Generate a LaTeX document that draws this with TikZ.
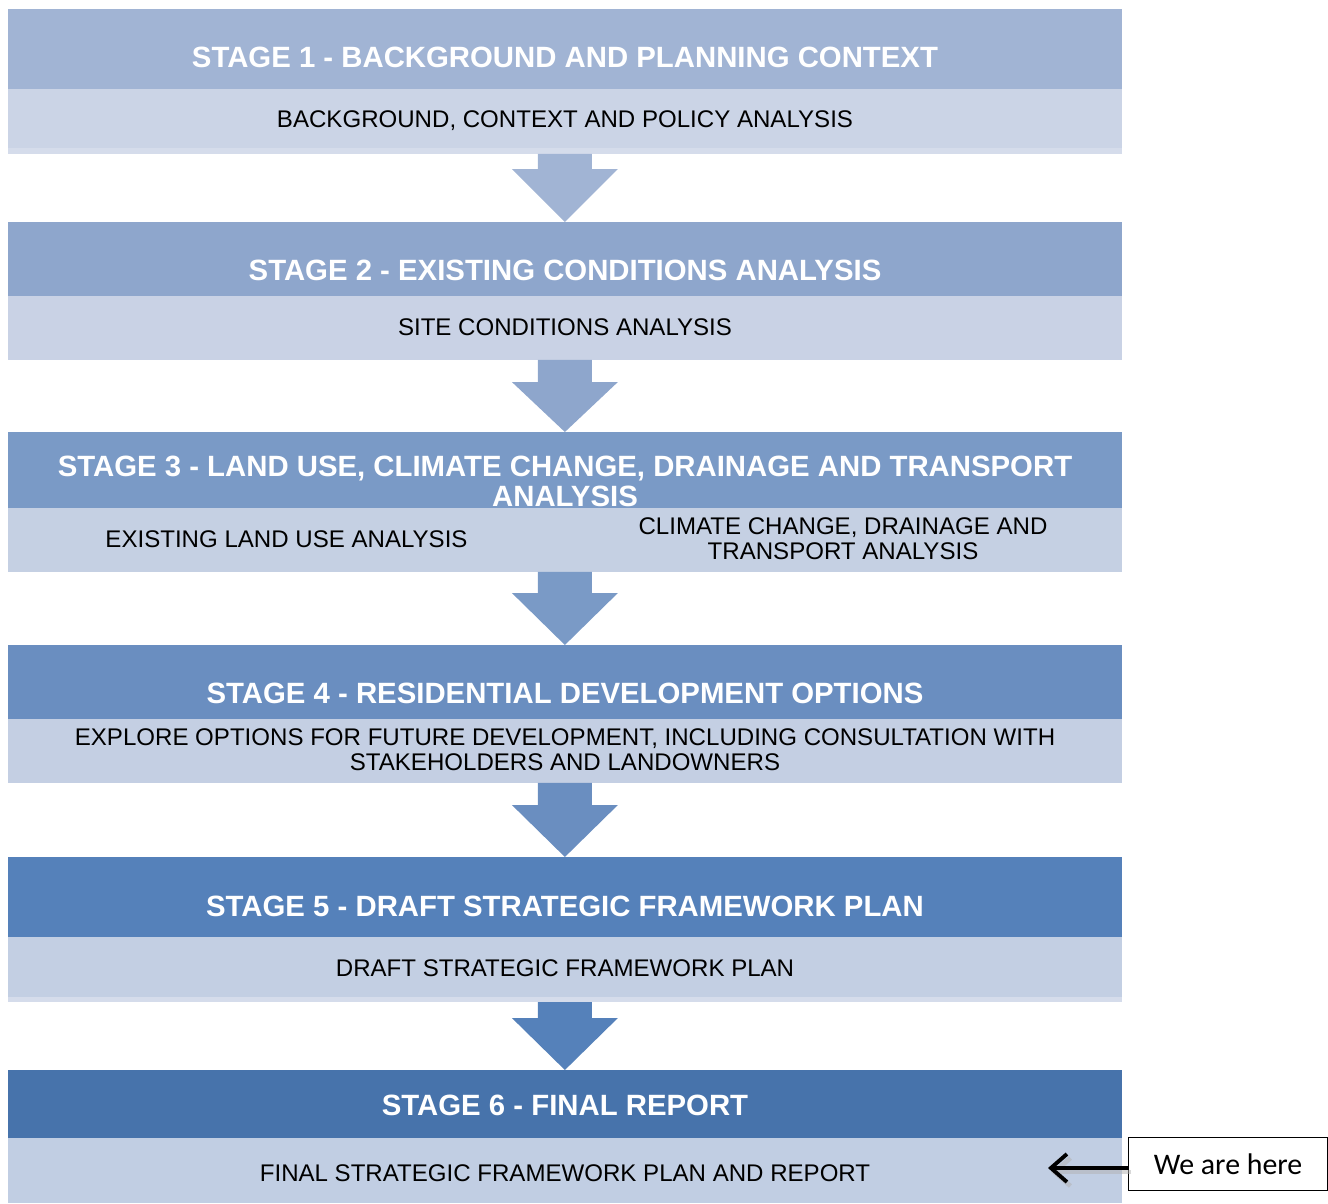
\documentclass[tikz,border=0pt]{standalone}
\usepackage{fontspec}
\setmainfont{Liberation Sans}
\newfontfamily\notefont{Carlito}
\usetikzlibrary{arrows.meta,positioning,calc}

\definecolor{hdrA}{HTML}{A1B4D4}
\definecolor{hdrB}{HTML}{8EA6CC}
\definecolor{hdrC}{HTML}{7A9AC6}
\definecolor{hdrD}{HTML}{6A8EC0}
\definecolor{hdrE}{HTML}{5581BA}
\definecolor{hdrF}{HTML}{4773AB}
\definecolor{bandA}{HTML}{CBD4E6}
\definecolor{bandB}{HTML}{C9D2E5}
\definecolor{bandC}{HTML}{C5D0E3}
\definecolor{bandD}{HTML}{C4CFE3}
\definecolor{bandE}{HTML}{C3CFE3}
\definecolor{bandF}{HTML}{C1CEE3}
\definecolor{edge}{HTML}{D5DCEB}

\begin{document}
\begin{tikzpicture}[
    x=0.02cm, y=-0.02cm,
    slab/.style={anchor=north west, minimum width=22.28cm, inner sep=0pt, outer sep=0pt},
    title/.style={text=white, align=center, font=\bfseries\fontsize{16.7}{17.07}\selectfont},
    task/.style={text=black, align=center, font=\fontsize{13.7}{14.2}\selectfont},
    pointer/.style={-{Straight Barb[length=3.2mm,width=5.6mm]}, line width=2.2pt, black},
    pointershade/.style={-{Straight Barb[length=3.2mm,width=5.6mm]}, line width=2.6pt, black!30, opacity=0.5}
  ]
    \useasboundingbox (0,0) rectangle (1328,1203);

    % stage headers and their task bands
    \node[slab, fill=hdrA, minimum height=1.6cm] (h1) at (8,9) {};
    \node[slab, fill=bandA, minimum height=1.18cm] (b1) at (8,89) {};
    \node[slab, fill=edge, minimum height=0.12cm] (f1) at (8,148) {};

    \node[slab, fill=hdrB, minimum height=1.48cm] (h2) at (8,222) {};
    \node[slab, fill=bandB, minimum height=1.28cm] (b2) at (8,296) {};

    \node[slab, fill=hdrC, minimum height=1.52cm] (h3) at (8,432) {};
    \node[slab, fill=bandC, minimum height=1.28cm] (b3) at (8,508) {};

    \node[slab, fill=hdrD, minimum height=1.48cm] (h4) at (8,645) {};
    \node[slab, fill=bandD, minimum height=1.28cm] (b4) at (8,719) {};

    \node[slab, fill=hdrE, minimum height=1.6cm] (h5) at (8,857) {};
    \node[slab, fill=bandE, minimum height=1.2cm] (b5) at (8,937) {};
    \node[slab, fill=edge, minimum height=0.1cm] (f5) at (8,997) {};

    \node[slab, fill=hdrF, minimum height=1.36cm] (h6) at (8,1070) {};
    \node[slab, fill=bandF, minimum height=1.3cm] (b6) at (8,1138) {};

    % block arrows from one stage down to the next
    \fill[hdrA] ($(f1.south)+(-27,0)$) -- ($(f1.south)+(27,0)$) -- ($(h2.north)+(27,-53)$) -- ($(h2.north)+(53,-53)$) -- (h2.north) -- ($(h2.north)+(-53,-53)$) -- ($(h2.north)+(-27,-53)$) -- cycle;
    \fill[hdrB] ($(b2.south)+(-27,0)$) -- ($(b2.south)+(27,0)$) -- ($(h3.north)+(27,-50)$) -- ($(h3.north)+(53,-50)$) -- (h3.north) -- ($(h3.north)+(-53,-50)$) -- ($(h3.north)+(-27,-50)$) -- cycle;
    \fill[hdrC] ($(b3.south)+(-27,0)$) -- ($(b3.south)+(27,0)$) -- ($(h4.north)+(27,-52)$) -- ($(h4.north)+(53,-52)$) -- (h4.north) -- ($(h4.north)+(-53,-52)$) -- ($(h4.north)+(-27,-52)$) -- cycle;
    \fill[hdrD] ($(b4.south)+(-27,0)$) -- ($(b4.south)+(27,0)$) -- ($(h5.north)+(27,-52)$) -- ($(h5.north)+(53,-52)$) -- (h5.north) -- ($(h5.north)+(-53,-52)$) -- ($(h5.north)+(-27,-52)$) -- cycle;
    \fill[hdrE] ($(f5.south)+(-27,0)$) -- ($(f5.south)+(27,0)$) -- ($(h6.north)+(27,-52)$) -- ($(h6.north)+(53,-52)$) -- (h6.north) -- ($(h6.north)+(-53,-52)$) -- ($(h6.north)+(-27,-52)$) -- cycle;

    % stage titles
    \node[title] (t1) at (565,57.5) {STAGE 1 - BACKGROUND AND PLANNING CONTEXT};
    \node[title] (t2) at (565,270) {STAGE 2 - EXISTING CONDITIONS ANALYSIS};
    \node[title] (t3) at (565,481) {STAGE 3 - LAND USE, CLIMATE CHANGE, DRAINAGE AND TRANSPORT\\ANALYSIS};
    \node[title] (t4) at (565,693) {STAGE 4 - RESIDENTIAL DEVELOPMENT OPTIONS};
    \node[title] (t5) at (565,906) {STAGE 5 - DRAFT STRATEGIC FRAMEWORK PLAN};
    \node[title] (t6) at (565,1105) {STAGE 6 - FINAL REPORT};

    % tasks
    \node[task] (s1) at (565,120.5) {BACKGROUND, CONTEXT AND POLICY ANALYSIS};
    \node[task] (s2) at (565,327) {SITE CONDITIONS ANALYSIS};
    \node[task] (s3a) at (286.5,539) {EXISTING LAND USE ANALYSIS};
    \node[task] (s3b) at (843,539) {CLIMATE CHANGE, DRAINAGE AND\\TRANSPORT ANALYSIS};
    \node[task] (s4) at (565,749.5) {EXPLORE OPTIONS FOR FUTURE DEVELOPMENT, INCLUDING CONSULTATION WITH\\STAKEHOLDERS AND LANDOWNERS};
    \node[task] (s5) at (565,968) {DRAFT STRATEGIC FRAMEWORK PLAN};
    \node[task] (s6) at (565,1173) {FINAL STRATEGIC FRAMEWORK PLAN AND REPORT};

    % current position marker
    \node[draw, line width=0.6pt, fill=white, anchor=north west, minimum height=1.06cm,
      minimum width=3.98cm, font=\notefont\fontsize{17}{20}\selectfont] (here) at (1128,1137) {We are here};
    \coordinate (tip) at (1048,1168);
    \coordinate (tipshade) at (1051,1172);
    \draw[pointershade] ($(here.west |- tip)+(3,4)$) -- (tipshade);
    \draw[pointer] (here.west |- tip) -- (tip);
  \end{tikzpicture}
\end{document}
